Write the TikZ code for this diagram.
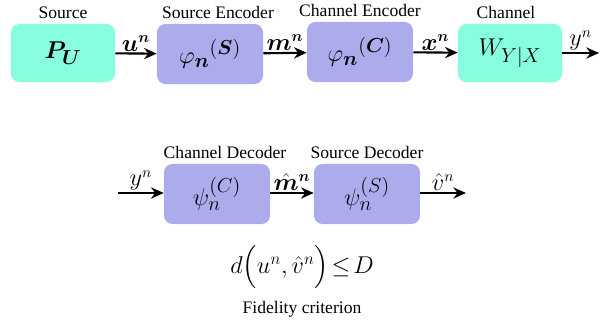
\documentclass[tikz,border=0pt]{standalone}
\usepackage{fontspec}
\usepackage{amsmath,amssymb}
\usepackage{bm}
\setmainfont{Liberation Serif}
\usetikzlibrary{arrows.meta,positioning}
\definecolor{srcgreen}{RGB}{135,255,222}
\definecolor{codeblue}{RGB}{172,172,236}
\tikzset{
    % block styles
    srcbox/.style={
        rectangle, fill=srcgreen, draw=none,
        minimum width=2.6cm, minimum height=1.45cm,
        rounded corners=6pt, font=\fontsize{19}{22}\selectfont
    },
    codebox/.style={
        rectangle, fill=codeblue, draw=none,
        minimum width=2.65cm, minimum height=1.5cm,
        rounded corners=6pt, font=\fontsize{19}{22}\selectfont
    },
    title/.style={font=\fontsize{12.5}{14}\selectfont},
    arrow/.style={-{Stealth[length=9pt,width=8pt]}, line width=1.5pt},
    sig/.style={above, font=\fontsize{16}{18}\selectfont, inner sep=1pt}
}
\begin{document}
\begin{tikzpicture}[x=0.025cm,y=-0.025cm]
\useasboundingbox (0,0) rectangle (600,324);

% Encoder chain
\node[srcbox]  (source)  at (63,53)  {$\bm{P_U}$};
\node[codebox] (srcenc)  at (210,54) {$\varphi_{\bm n}{}^{(\bm S)}$};
\node[codebox] (chenc)   at (360,52) {$\varphi_{\bm n}{}^{(\bm C)}$};
\node[srcbox]  (channel) at (510,53) {$W_{Y|X}$};
\coordinate (yout) at (599,53);

\node[title] at (63,13)  {Source};
\node[title] at (218,12) {Source Encoder};
\node[title] at (360,10) {Channel Encoder};
\node[title] at (506,12) {Channel};

\draw[arrow] (source) -- node[sig] {$\bm{u}^{\bm n}$} (srcenc);
\draw[arrow] (srcenc) -- node[sig] {$\bm{m}^{\bm n}$} (chenc);
\draw[arrow] (chenc) -- node[sig] {$\bm{x}^{\bm n}$} (channel);
\draw[arrow] (channel) -- node[sig] {$y^{n}$} (yout);

% Decoder chain
\coordinate (yin) at (118,193);
\node[codebox] (chdec)  at (217,194) {$\psi^{(C)}_{n}$};
\node[codebox] (srcdec) at (367,194) {$\psi^{(S)}_{n}$};
\coordinate (vout) at (466,193);

\node[title] at (225,152) {Channel Decoder};
\node[title] at (367,152) {Source Decoder};

\draw[arrow] (yin) -- node[sig] {$y^{n}$} (chdec.west |- yin);
\draw[arrow] (chdec.east |- yin) -- node[sig] {$\hat{\bm m}^{\bm n}$} (srcdec.west |- yin);
\draw[arrow] (srcdec.east |- yin) -- node[sig] {$\hat{v}^{n}$} (vout);

% Fidelity criterion
\node[font=\fontsize{17}{20}\selectfont] (crit) at (302,267) {$d\Big(u^{n},\hat{v}^{n}\Big)\!\leq\! D$};
\node[title] (critlabel) at (302,309) {Fidelity criterion};

\end{tikzpicture}
\end{document}
